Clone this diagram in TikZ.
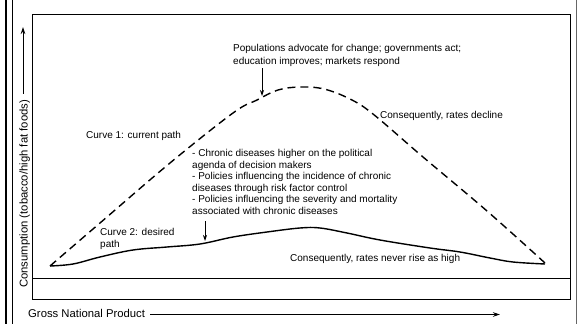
\documentclass[tikz,border=0pt]{standalone}
\usepackage{fontspec}
\setmainfont{Liberation Sans}
\usetikzlibrary{arrows.meta}
\begin{document}
\begin{tikzpicture}[x=1pt,y=-1pt,
  lbl/.style={inner sep=0pt,anchor=base west,font=\fontsize{10}{11.6}\selectfont,align=left},
  axlbl/.style={inner sep=0pt,font=\fontsize{11.3}{13}\selectfont},
  dashpath/.style={line width=1.4pt,dash pattern=on 8pt off 5pt},
  solidpath/.style={line width=1.4pt},
  downarrow/.style={line width=0.8pt,-{Stealth[length=6pt,width=4pt]}},
  axarrow/.style={line width=0.8pt,-{Stealth[length=7pt,width=4.5pt]}}]
\useasboundingbox (0,0) rectangle (578,324);
% outer frame
\draw[line width=1.8pt] (6,0) -- (6,324);
\draw[line width=0.7pt] (12,0) -- (12,324);
\draw[line width=0.5pt,black!60] (576.5,0) -- (576.5,324);
% inner box
\draw[line width=1pt] (32,14) rectangle (570,299);
\draw[line width=0.8pt] (32,278) -- (570,278);
% curves
\coordinate (start) at (50,266);
\coordinate (finish) at (545,263);
\draw[dashpath] plot[smooth,tension=0.6] coordinates {(50,266) (100,223) (170,163) (233,113) (257,100) (278,90) (300,87) (324,89) (350,99) (373,114) (423,157) (487,211) (545,263)};
\draw[solidpath] plot[smooth,tension=0.6] coordinates {(50,266) (73,264) (100,257) (133,250) (167,247) (200,244) (233,237) (267,232) (300,228) (320,228) (347,233) (380,240) (430,248) (460,252) (490,258) (513,262) (545,264)};
% labels (base anchor = baseline of last line)
\node[lbl,font=\fontsize{10}{13}\selectfont] (pop) at (233,64) {Populations advocate for change; governments act;\\education improves; markets respond};
\node[lbl] (decl) at (380,118) {Consequently, rates decline};
\node[lbl] (c1) at (86,138) {Curve 1: current path};
\node[lbl] (bul) at (192,214.5) {- Chronic diseases higher on the political\\agenda of decision makers\\- Policies influencing the incidence of chronic\\diseases through risk factor control\\- Policies influencing the severity and mortality\\associated with chronic diseases};
\node[lbl] (c2) at (100,247.5) {Curve 2: desired\\path};
\node[lbl] (never) at (290,261) {Consequently, rates never rise as high};
% pointer arrows
\coordinate (a1s) at (262,68);
\coordinate (a1e) at (262,96);
\draw[downarrow] (a1s) -- (a1e);
\coordinate (a2s) at (205,221);
\coordinate (a2e) at (205,241);
\draw[downarrow] (a2s) -- (a2e);
% axes
\node[axlbl,anchor=base west] (gnp) at (28,317.5) {Gross National Product};
\coordinate (xend) at (500,314.5);
\draw[axarrow] (gnp.east |- xend) ++(5,0) -- (xend);
\node[axlbl,anchor=base west,rotate=90] (cons) at (27.5,288) {Consumption (tobacco/high fat foods)};
\coordinate (yend) at (23,27);
\draw[axarrow] (cons.east -| yend) ++(0,-6) -- (yend);
\end{tikzpicture}
\end{document}
